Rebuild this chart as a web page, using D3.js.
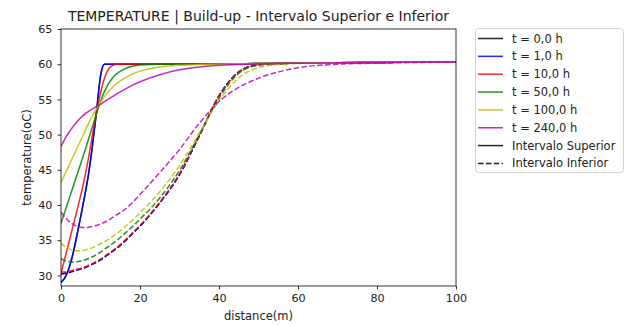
<!DOCTYPE html>
<html>
<head>
<meta charset="utf-8">
<script src="https://cdn.jsdelivr.net/npm/d3@7.9.0/dist/d3.min.js"></script>
<style>
  body { margin: 0; background: #fff; }
  svg { font-family: 'DejaVu Sans', sans-serif; }
</style>
</head>
<body>
<svg id="chart" width="626" height="326"></svg>
<script>
// distance grid (m) shared by every series
const distance = [0, 1, 2, 3, 4, 5, 6, 7, 8, 9, 10, 11, 12, 13, 14, 16, 18, 20, 25, 30, 35, 40, 45, 50, 55, 60, 70, 80, 90, 100];

// Intervalo Superior (solid)
const sup_t0 = [29.0, 29.7, 31.0, 33.0, 35.6, 38.4, 41.3, 44.5, 48.6, 53.3, 58.3, 60.0, 60.0, 60.0, 60.0, 60.0, 60.0, 60.0, 60.0, 60.0, 60.0, 60.0, 60.05, 60.1, 60.1, 60.15, 60.2, 60.25, 60.3, 60.3];
const sup_t1 = [29.0, 29.7, 31.0, 33.0, 35.6, 38.4, 41.3, 44.5, 48.6, 53.3, 58.3, 60.0, 60.0, 60.0, 60.0, 60.0, 60.0, 60.0, 60.0, 60.0, 60.0, 60.0, 60.05, 60.1, 60.1, 60.15, 60.2, 60.25, 60.3, 60.3];
const sup_t10 = [30.3, 32.5, 34.7, 36.9, 39.1, 41.4, 43.9, 46.8, 50.1, 53.2, 55.9, 58.0, 59.3, 59.8, 60.0, 60.0, 60.0, 60.0, 60.0, 60.0, 60.0, 60.0, 60.05, 60.1, 60.1, 60.15, 60.2, 60.25, 60.3, 60.3];
const sup_t50 = [37.4, 39.1, 40.8, 42.5, 44.2, 45.9, 47.6, 49.4, 51.2, 53.0, 54.7, 56.1, 57.2, 58.0, 58.6, 59.3, 59.7, 59.9, 60.0, 60.0, 60.0, 60.0, 60.05, 60.1, 60.1, 60.15, 60.2, 60.25, 60.3, 60.3];
const sup_t100 = [43.2, 44.4, 45.6, 46.8, 48.0, 49.2, 50.4, 51.6, 52.7, 53.7, 54.6, 55.4, 56.1, 56.7, 57.2, 58.0, 58.6, 59.0, 59.6, 59.85, 59.95, 60.0, 60.05, 60.1, 60.1, 60.15, 60.2, 60.25, 60.3, 60.3];
const sup_t240 = [48.3, 49.4, 50.3, 51.1, 51.8, 52.4, 52.9, 53.3, 53.65, 54.0, 54.3, 54.7, 55.05, 55.4, 55.75, 56.4, 57.0, 57.5, 58.5, 59.2, 59.6, 59.85, 59.95, 60.05, 60.1, 60.15, 60.2, 60.25, 60.3, 60.3];

// Intervalo Inferior (dashed)
const inf_t0 = [30.2, 30.3, 30.4, 30.6, 30.75, 30.9, 31.1, 31.35, 31.6, 31.9, 32.2, 32.6, 33.0, 33.4, 33.8, 34.8, 35.9, 37.0, 40.3, 44.3, 49.8, 55.5, 58.9, 59.95, 60.1, 60.15, 60.2, 60.25, 60.3, 60.3];
const inf_t1 = [30.2, 30.3, 30.4, 30.6, 30.75, 30.9, 31.1, 31.35, 31.6, 31.9, 32.2, 32.6, 33.0, 33.4, 33.8, 34.8, 35.9, 37.0, 40.3, 44.3, 49.8, 55.5, 58.9, 59.95, 60.1, 60.15, 60.2, 60.25, 60.3, 60.3];
const inf_t10 = [30.5, 30.5, 30.6, 30.75, 30.9, 31.0, 31.2, 31.45, 31.7, 32.0, 32.3, 32.7, 33.1, 33.5, 33.9, 34.9, 36.0, 37.1, 40.4, 44.4, 49.9, 55.5, 58.9, 59.95, 60.1, 60.15, 60.2, 60.25, 60.3, 60.3];
const inf_t50 = [32.4, 32.1, 31.95, 31.9, 31.95, 32.05, 32.2, 32.4, 32.65, 32.95, 33.3, 33.7, 34.1, 34.5, 34.9, 35.9, 36.9, 38.0, 41.0, 44.9, 50.0, 55.2, 58.7, 59.85, 60.05, 60.15, 60.2, 60.25, 60.3, 60.3];
const inf_t100 = [34.6, 34.1, 33.8, 33.6, 33.5, 33.5, 33.6, 33.75, 33.95, 34.2, 34.5, 34.8, 35.1, 35.5, 35.9, 36.8, 37.8, 38.9, 41.9, 45.6, 50.2, 54.8, 58.1, 59.5, 59.95, 60.1, 60.2, 60.25, 60.3, 60.3];
const inf_t240 = [39.0, 38.3, 37.7, 37.3, 37.0, 36.85, 36.8, 36.85, 36.95, 37.1, 37.3, 37.55, 37.85, 38.2, 38.55, 39.3, 40.3, 41.5, 44.6, 47.9, 51.6, 54.7, 56.7, 58.0, 58.9, 59.5, 60.0, 60.15, 60.25, 60.3];

const timeLabels = ['t = 0,0 h', 't = 1,0 h', 't = 10,0 h', 't = 50,0 h', 't = 100,0 h', 't = 240,0 h'];
const colors = ['#000000', '#0000ff', '#ff0000', '#008000', '#bfbf00', '#bf00bf'];
const supSeries = [sup_t0, sup_t1, sup_t10, sup_t50, sup_t100, sup_t240];
const infSeries = [inf_t0, inf_t1, inf_t10, inf_t50, inf_t100, inf_t240];

const xTicks = [0, 20, 40, 60, 80, 100];
const yTicks = [30, 35, 40, 45, 50, 55, 60, 65];

const margin = { left: 61, right: 170, top: 29, bottom: 40 };
const width = 626, height = 326;

const svg = d3.select('#chart');

const x = d3.scaleLinear().domain([0, 100]).range([margin.left, width - margin.right]);
const y = d3.scaleLinear().domain([28.5, 65]).range([height - margin.bottom, margin.top]);

// clip so curves stay inside the axes
svg.append('defs').append('clipPath').attr('id', 'clip')
  .append('rect')
  .attr('x', x(0)).attr('y', y(65))
  .attr('width', x(100) - x(0)).attr('height', y(28.5) - y(65));

const line = d3.line()
  .x((d, i) => x(distance[i]))
  .y((d) => y(d))
  .curve(d3.curveMonotoneX);

const plot = svg.append('g').attr('clip-path', 'url(#clip)');

// plot each time: solid (superior) then dashed (inferior)
supSeries.forEach((s, i) => {
  plot.append('path')
    .attr('d', line(s))
    .attr('fill', 'none')
    .attr('stroke', colors[i])
    .attr('stroke-opacity', 0.85)
    .attr('stroke-width', 1.5);
  plot.append('path')
    .attr('d', line(infSeries[i]))
    .attr('fill', 'none')
    .attr('stroke', colors[i])
    .attr('stroke-opacity', 0.85)
    .attr('stroke-width', 1.5)
    .attr('stroke-dasharray', '5.5,2.4');
});

// axes
const xAxis = svg.append('g')
  .attr('transform', `translate(0,${y(28.5)})`)
  .call(d3.axisBottom(x).tickValues(xTicks).tickSize(3.5).tickPadding(5));
const yAxis = svg.append('g')
  .attr('transform', `translate(${x(0)},0)`)
  .call(d3.axisLeft(y).tickValues(yTicks).tickSize(3.5).tickPadding(5));

[xAxis, yAxis].forEach((a) => {
  a.select('.domain').remove();
  a.selectAll('line').attr('stroke', '#000').attr('stroke-width', 0.8);
  a.selectAll('text').attr('font-size', 11.2).attr('fill', '#222')
    .attr('font-family', "'DejaVu Sans', sans-serif");
});

// frame
svg.append('rect')
  .attr('x', x(0)).attr('y', y(65))
  .attr('width', x(100) - x(0)).attr('height', y(28.5) - y(65))
  .attr('fill', 'none').attr('stroke', '#000').attr('stroke-width', 0.8);

// title and labels
svg.append('text')
  .attr('x', (x(0) + x(100)) / 2).attr('y', 21)
  .attr('text-anchor', 'middle').attr('font-size', 14).attr('fill', '#222')
  .text('TEMPERATURE | Build-up - Intervalo Superior e Inferior');

svg.append('text')
  .attr('x', (x(0) + x(100)) / 2).attr('y', 319.5)
  .attr('text-anchor', 'middle').attr('font-size', 11.5).attr('fill', '#222')
  .text('distance(m)');

svg.append('text')
  .attr('transform', `translate(31,${(y(28.5) + y(65)) / 2}) rotate(-90)`)
  .attr('text-anchor', 'middle').attr('font-size', 11.5).attr('fill', '#222')
  .text('temperature(oC)');

// legend
const legendItems = timeLabels.map((t, i) => ({ label: t, color: colors[i], dash: null }))
  .concat([
    { label: 'Intervalo Superior', color: '#000', dash: null },
    { label: 'Intervalo Inferior', color: '#000', dash: '5.5,2.4' },
  ]);

const legend = svg.append('g');
legend.append('rect')
  .attr('x', 475.5).attr('y', 28.5).attr('width', 148).attr('height', 144)
  .attr('rx', 3).attr('fill', '#fff').attr('fill-opacity', 0.8)
  .attr('stroke', '#d5d5d5').attr('stroke-width', 1);

legendItems.forEach((d, i) => {
  const cy = 38.5 + i * 17.85;
  legend.append('line')
    .attr('x1', 478).attr('x2', 503).attr('y1', cy).attr('y2', cy)
    .attr('stroke', d.color).attr('stroke-opacity', 0.85).attr('stroke-width', 1.5)
    .attr('stroke-dasharray', d.dash);
  legend.append('text')
    .attr('x', 512).attr('y', cy + 4)
    .attr('font-size', 11.5).attr('fill', '#222')
    .text(d.label);
});
</script>
</body>
</html>
